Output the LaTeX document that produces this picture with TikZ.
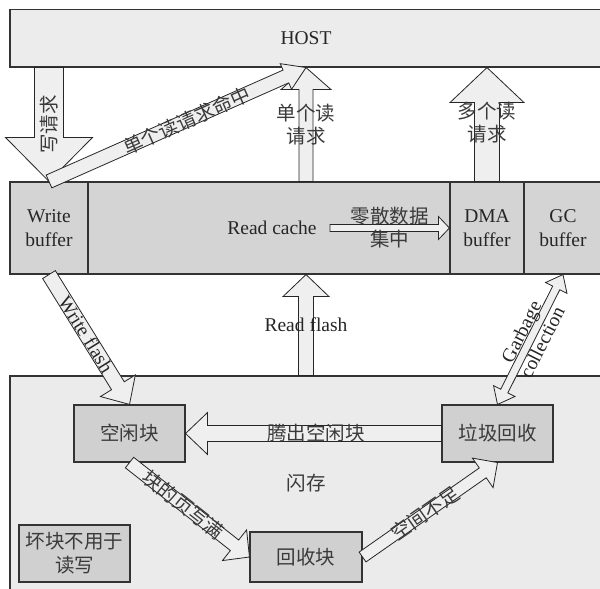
\documentclass[tikz,border=0pt]{standalone}
\usepackage{fontspec}
\setmainfont{Liberation Serif}
\newfontfamily\cjk{Noto Sans CJK SC}
\usetikzlibrary{calc}
\definecolor{lineC}{HTML}{333333}
\definecolor{hostF}{HTML}{ECECEC}
\definecolor{midF}{HTML}{D4D4D4}
\definecolor{flashF}{HTML}{EBEBEB}
\definecolor{blkF}{HTML}{D0D0D0}
\definecolor{arrF}{HTML}{EFEFEF}
\definecolor{txtC}{HTML}{262626}
\definecolor{cjkC}{HTML}{3A3A3A}

% single block arrow: from, to, shaft half width, head half width, head length
\newcommand{\barrow}[5]{%
 \draw[blkarrow] ($(#1)!#3!90:(#2)$) -- ($(#2)!#5!(#1)!#3!-90:(#1)$) -- ($(#2)!#5!(#1)!#4!-90:(#1)$) -- (#2) -- ($(#2)!#5!(#1)!#4!90:(#1)$) -- ($(#2)!#5!(#1)!#3!90:(#1)$) -- ($(#1)!#3!-90:(#2)$) -- cycle;}
% double block arrow
\newcommand{\dbarrow}[5]{%
 \draw[blkarrow] (#1) -- ($(#1)!#5!(#2)!#4!90:(#2)$) -- ($(#1)!#5!(#2)!#3!90:(#2)$) -- ($(#2)!#5!(#1)!#3!-90:(#1)$) -- ($(#2)!#5!(#1)!#4!-90:(#1)$) -- (#2) -- ($(#2)!#5!(#1)!#4!90:(#1)$) -- ($(#2)!#5!(#1)!#3!90:(#1)$) -- ($(#1)!#5!(#2)!#3!-90:(#2)$) -- ($(#1)!#5!(#2)!#4!-90:(#2)$) -- cycle;}

\begin{document}
\begin{tikzpicture}[x=1pt,y=-1pt,
  box/.style={draw=lineC, line width=1.1pt, inner sep=0pt, align=center, text=txtC,
    font=\fontsize{19.5}{23.5}\selectfont},
  hostbox/.style={box, fill=hostF},
  midbox/.style={box, fill=midF, minimum height=92pt},
  flashbox/.style={box, fill=flashF},
  blockbox/.style={box, fill=blkF, text=cjkC, font=\fontsize{19.5}{24}\selectfont\cjk},
  blkarrow/.style={draw=black!85, line width=0.8pt, fill=arrF, line join=miter},
  lbl/.style={inner sep=0pt, align=center, text=txtC, font=\fontsize{19.5}{23.5}\selectfont},
  clbl/.style={lbl, text=cjkC, font=\fontsize{19.5}{23}\selectfont\cjk}]
\useasboundingbox (0,0) rectangle (600,589);
\fill[white] (0,0) rectangle (600,589);

% boxes
\node[hostbox, minimum width=592pt, minimum height=57.5pt] (host) at (306,38.25) {HOST};
\node[midbox, minimum width=78pt] (wb) at (49,228) {Write\\buffer};
\node[midbox, minimum width=362pt] (rc) at (269,228) {\hspace*{6pt}Read cache};
\node[midbox, minimum width=74pt] (dma) at (487,228) {DMA\\buffer};
\node[midbox, minimum width=78pt] (gcb) at (563,228) {GC\\buffer};
\node[flashbox, minimum width=592pt, minimum height=229pt] (flash) at (306,490.5) {};
\node[clbl] (fl) at (306,483) {闪存};
\node[blockbox, minimum width=111pt, minimum height=57pt] (fb) at (129.5,433.5) {空闲块};
\node[blockbox, minimum width=111pt, minimum height=57pt] (gb) at (497.5,433.5) {垃圾回收};
\node[blockbox, minimum width=112pt, minimum height=50pt] (rcb) at (306,557) {回收块};
\node[blockbox, minimum width=111pt, minimum height=57pt] (bad) at (74.5,553.5) {坏块不用于\\读写};

% helper coordinates
\coordinate (wq) at (wb.north |- host.south);
\coordinate (sr) at (host.south |- rc.north);
\coordinate (mr) at (dma.north |- host.south);
\coordinate (rf) at (flash.north |- rc.south);
\coordinate (zs) at (330,228);

% arrows
\barrow{wq}{wb.north}{14.5pt}{43.5pt}{44pt}
\barrow{sr}{host.south}{7pt}{25pt}{22pt}
\barrow{wb.north}{host.south}{7pt}{14pt}{22pt}
\barrow{dma.north}{mr}{12.5pt}{37pt}{35pt}
\barrow{zs}{dma.west}{3.5pt}{11.5pt}{11pt}
\barrow{flash.north}{rf}{7.5pt}{23pt}{22pt}
\barrow{wb.south}{fb.north}{7.5pt}{20.5pt}{22pt}
\dbarrow{gcb.south}{gb.north}{4pt}{12pt}{15pt}
\barrow{gb.west}{fb.east}{8pt}{21pt}{22pt}
\barrow{fb.south}{rcb.west}{6.7pt}{19.5pt}{19pt}
\barrow{rcb.east}{gb.south}{6pt}{18pt}{18pt}

% arrow labels
\path (wq) -- (wb.north) node[clbl, midway, rotate=90] (l1) {写请求};
\path (wb.north) -- (host.south) node[clbl, pos=0.535, sloped] (l2) {单个读请求命中};
\path (sr) -- (host.south) node[clbl, pos=0.5] (l3) {单个读\\请求};
\path (dma.north) -- (mr) node[clbl, pos=0.52] (l4) {多个读\\请求};
\path (zs) -- (dma.west) node[clbl, midway] (l5) {零散数据\\集中};
\path (flash.north) -- (rf) node[lbl, midway] (l6) {Read flash};
\path (wb.south) -- (fb.north) node[lbl, pos=0.46, sloped] (l7) {Write flash};
\path (gcb.south) -- (gb.north) node[lbl, pos=0.48, sloped] (l8) {Garbage\\collection};
\path (gb.west) -- (fb.east) node[clbl, pos=0.49] (l9) {腾出空闲块};
\path (fb.south) -- (rcb.west) node[clbl, pos=0.45, sloped] (l10) {块的页写满};
\path (rcb.east) -- (gb.south) node[clbl, pos=0.465, sloped] (l11) {空间不足};
\end{tikzpicture}
\end{document}
